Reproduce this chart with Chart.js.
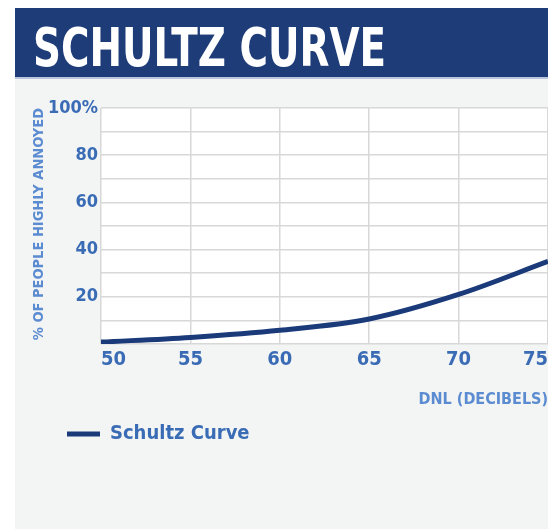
<!DOCTYPE html>
<html>
<head>
<meta charset="utf-8">
<script src="https://cdn.jsdelivr.net/npm/chart.js@4"></script>
<style>
  body { margin: 0; background: #ffffff; overflow: hidden; }
  #cabecera {
    position: absolute; left: 15px; top: 8px; width: 540px; height: 69px;
    background: #1e3c78; border-bottom: 2px solid #b9c6de;
  }
  #cabecera h1 {
    margin: 0; position: absolute; left: 18px; top: 8px;
    font-family: "Liberation Sans Narrow", "DejaVu Sans Condensed", sans-serif;
    font-weight: bold; font-size: 54px; color: #ffffff; white-space: nowrap;
    transform: scaleX(0.8); transform-origin: left center;
  }
  #panel {
    position: absolute; left: 15px; top: 79px; width: 533px; height: 450px;
    background: #f3f4f4;
  }
</style>
</head>
<body>
<div id="cabecera"><h1>SCHULTZ CURVE</h1></div>
<div id="panel"><canvas id="grafico" width="533" height="450"></canvas></div>
<script>
  // Datos
  const nivelesDNL = [50, 55, 60, 65, 70, 75];
  const porcentajeMolestos = [0.8, 2.8, 5.8, 10.6, 21, 35];
  const etiquetasY = { 20: "20", 40: "40", 60: "60", 80: "80", 100: "100%" };

  const azulOscuro = "#1b3a7a";
  const azulTexto = "#3a6cb6";
  const azulClaro = "#5b8bd0";

  Chart.defaults.font.family = "'Liberation Sans Narrow', 'DejaVu Sans Condensed', sans-serif";
  Chart.defaults.font.weight = "bold";

  //  Fondo blanco del area de trazado
  const fondoBlanco = {
    id: "fondoBlanco",
    beforeDraw(chart) {
      const a = chart.chartArea;
      chart.ctx.save();
      chart.ctx.fillStyle = "#ffffff";
      chart.ctx.fillRect(a.left, a.top, a.right - a.left, a.bottom - a.top);
      chart.ctx.restore();
    }
  };

  //  Mover la leyenda a la derecha
  const moverLeyenda = {
    id: "moverLeyenda",
    afterLayout(chart) {
      if (chart.legend) chart.legend.left += 37;
    }
  };

  new Chart(document.getElementById("grafico"), {
    type: "line",
    data: {
      datasets: [{
        label: "Schultz Curve",
        data: nivelesDNL.map((x, i) => ({ x: x, y: porcentajeMolestos[i] })),
        borderColor: azulOscuro,
        backgroundColor: azulOscuro,
        borderWidth: 5,
        pointRadius: 0,
        cubicInterpolationMode: "monotone"
      }]
    },
    options: {
      responsive: false,
      animation: false,
      layout: { padding: { top: 29, right: 0, bottom: 75, left: 0 } },
      plugins: {
        tooltip: { enabled: false },
        legend: {
          position: "bottom",
          align: "start",
          labels: {
            color: azulTexto,
            font: { size: 20 },
            boxWidth: 33,
            boxHeight: 5,
            padding: 15,
            generateLabels(chart) {
              const items = Chart.defaults.plugins.legend.labels.generateLabels(chart);
              items.forEach(it => { it.lineWidth = 0; });
              return items;
            }
          }
        }
      },
      scales: {
        x: {
          type: "linear",
          min: 50,
          max: 75,
          afterFit(scale) {
            scale.height = 65;
            scale.paddingLeft = 0;
            scale.paddingRight = 0;
          },
          ticks: {
            stepSize: 5,
            align: "inner",
            color: azulTexto,
            font: { size: 20 },
            padding: 4,
            maxRotation: 0,
            autoSkip: false
          },
          grid: { color: "#d8d8d8", lineWidth: 1.5, drawTicks: false },
          border: { display: false },
          title: {
            display: true,
            text: "DNL (DECIBELS)",
            align: "end",
            color: azulClaro,
            font: { size: 16 },
            padding: { top: 0, bottom: 0 }
          }
        },
        y: {
          min: 0,
          max: 100,
          afterFit(scale) {
            scale.width = 86;
          },
          ticks: {
            stepSize: 10,
            autoSkip: false,
            color: azulTexto,
            font: { size: 18 },
            padding: 3,
            callback: v => etiquetasY[v] || ""
          },
          grid: { color: "#d8d8d8", lineWidth: 1.5, drawTicks: false },
          border: { display: false },
          title: {
            display: true,
            text: "% OF PEOPLE HIGHLY ANNOYED",
            align: "end",
            color: azulClaro,
            font: { size: 14.5 },
            padding: { top: 16, bottom: 0 }
          }
        }
      }
    },
    plugins: [fondoBlanco, moverLeyenda]
  });
</script>
</body>
</html>
